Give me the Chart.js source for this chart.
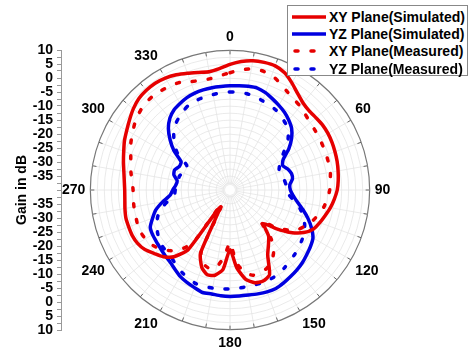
<!DOCTYPE html>
<html>
<head>
<meta charset="utf-8">
<script src="https://cdn.jsdelivr.net/npm/chart.js@4.4.1/dist/chart.umd.min.js"></script>
<style>
  html, body { margin: 0; padding: 0; background: #fff; overflow: hidden; }
  #wrap { position: relative; width: 470px; height: 358px; }
  #polar { position: absolute; left: 0; top: 0; }
  #axis { position: absolute; left: 0; top: 0; }
  #legend {
    position: absolute; left: 287px; top: 5px; width: 179px; height: 69px;
    background: #fff; border: 1px solid #888;
    font: bold 14px "Liberation Sans", Arial, sans-serif; color: #000;
  }
  #legend .row { display: flex; align-items: center; height: 17.3px; margin-top: 0; }
  #legend .row:first-child { margin-top: 2px; }
  #legend svg { margin-left: 4px; margin-right: 3px; }
</style>
</head>
<body>
<div id="wrap">
  <canvas id="axis" width="80" height="358"></canvas>
  <canvas id="polar" width="470" height="360"></canvas>
  <div id="legend"></div>
</div>
<script>
// polar pattern, gain in dB every 5 degrees (0 = top, clockwise)
const angles = [0,5,10,15,20,25,30,35,40,45,50,55,60,65,70,75,80,85,90,95,100,105,110,115,
  120,125,130,135,140,145,150,155,160,165,170,175,180,185,190,195,200,205,210,215,220,225,230,235,
  240,245,250,255,260,265,270,275,280,285,290,295,300,305,310,315,320,325,330,335,340,345,350,355];

const xySim = [5,6.2,7,7.3,7.3,6.3,4.3,2.2,0.7,0.1,0.2,0.5,0.5,0.3,0,-0.3,-0.7,-1.1,-1.6,-2.5,-3.5,-4.7,-5.8,-7,
  -9.5,-13.5,-18.5,-23,-18.5,-16,-13,-6.5,-5.3,-5.6,-7.5,-12,-18.6,-11.5,-9,-8.6,-10.5,-15,-33,-14,-8.8,-6.2,-4.6,-2.8,
  -1.8,-1.4,-1.4,-1.4,-1.8,-2.2,-2.3,-2,-1.4,-0.5,0.5,1.7,2.7,3.9,5.2,6.2,6.6,6.7,6.3,5.5,4.5,3.6,3,3.6];

const yzSim = [-2.7,-2.5,-2.3,-2.2,-2.9,-4,-5,-6,-7.3,-8.8,-11.2,-14.3,-18,-19.2,-18,-17.2,-17.3,-18.5,-18.4,-17.3,-15.5,-13,-10.3,-7.8,
  -5.7,-4.8,-4.1,-3.3,-2.7,-2.2,-1.6,-1.1,-1.2,-1.5,-1.8,-1.9,-1.9,-2,-2.2,-2,-2.8,-3.5,-4.3,-5.5,-6.5,-7,-7.5,-7.8,
  -8,-8.5,-10.5,-12.5,-15.5,-18.5,-19.5,-20.5,-20.8,-19.2,-18.9,-20,-19.8,-15.5,-12,-8.8,-6.5,-5,-4.2,-3.5,-3.1,-2.9,-2.8,-2.8];

const xyMeas = [2,3.2,4,4.2,3.7,2.3,0.8,-0.2,-0.9,-1.8,-2.5,-2.8,-3,-3.2,-3.3,-3.4,-3.5,-4,-4.3,-5,-5.8,-7,-8.3,-10,
  -11.8,-15,-19.5,-24.5,-17,-12.8,-10.3,-9,-8.5,-8.4,-10,-14,-21,-16,-12,-11,-12,-15.5,-34.5,-17,-12,-9.3,-7.2,-5.8,
  -5,-4.6,-4.7,-5,-5.1,-5.2,-5.3,-4.8,-4,-3.2,-2.2,-0.8,0.4,1.6,2.6,3.4,3.5,3.3,3,2.5,1.3,0.6,0.5,1.1];

const yzMeas = [-4.9,-4.9,-5,-5.4,-6,-6.5,-7,-8,-9,-10.5,-13,-16.5,-19,-20.5,-21.3,-20.8,-20.2,-19.8,-19.5,-18.7,-16.5,-14,-12,-10.5,
  -9.3,-8.6,-8,-7.3,-6.8,-6,-5.2,-5,-4.9,-4.9,-4.9,-4.7,-4.6,-4.4,-4.3,-4.3,-4.3,-5,-5.8,-6.8,-7.8,-8.2,-8.5,-9,
  -10,-11,-12.5,-14.5,-17.5,-20,-20.4,-21,-21.3,-21.2,-22,-23.2,-22,-17,-14,-11.5,-9.5,-8.2,-7,-6,-5.7,-5.5,-5.3,-5];

const seriesNames = ["XY Plane(Simulated)", "YZ Plane(Simulated)", "XY Plane(Measured)", "YZ Plane(Measured)"];
const gainMin = -40, gainMax = 10;

Chart.defaults.font.family = "'Liberation Sans', Arial, sans-serif";
Chart.defaults.color = "#000";

const RED = "#e60000", BLUE = "#0000e0";

function ds(label, data, color, dotted) {
  return {
    label: label,
    data: data,
    borderColor: color,
    backgroundColor: color,
    borderWidth: 3.5,
    borderDash: dotted ? [3, 13] : [],
    borderCapStyle: dotted ? "round" : "butt",
    pointRadius: 0,
    fill: false,
    tension: 0.2
  };
}

// outer ring ticks + small hole in the middle
const ringTicks = {
  id: "ringTicks",
  beforeDatasetsDraw(chart) {
    const s = chart.scales.r, c = chart.ctx;
    c.save();
    c.fillStyle = "#fff";
    c.beginPath();
    c.arc(s.xCenter, s.yCenter, 5, 0, Math.PI * 2);
    c.fill();
    c.strokeStyle = "#666";
    c.lineWidth = 1;
    for (let i = 0; i < angles.length; i += 2) {
      const a = s.getPointPosition(i, s.drawingArea);
      const b = s.getPointPosition(i, s.drawingArea - 4);
      c.beginPath();
      c.moveTo(a.x, a.y);
      c.lineTo(b.x, b.y);
      c.stroke();
    }
    c.restore();
  }
};

const polar = new Chart(document.getElementById("polar"), {
  type: "radar",
  data: {
    labels: angles,
    datasets: [
      ds(seriesNames[0], xySim, RED, false),
      ds(seriesNames[1], yzSim, BLUE, false),
      ds(seriesNames[2], xyMeas, RED, true),
      ds(seriesNames[3], yzMeas, BLUE, true)
    ]
  },
  options: {
    responsive: false,
    animation: false,
    layout: { padding: { left: 58, right: 75, top: 22, bottom: 1 } },
    plugins: { legend: { display: false }, tooltip: { enabled: false } },
    scales: {
      r: {
        min: gainMin,
        max: gainMax,
        ticks: { display: false, stepSize: 2.5 },
        grid: {
          circular: true,
          color: ctx => ctx.tick && ctx.tick.value === gainMax ? "#777" : "#e4e4e4",
          lineWidth: ctx => ctx.tick && ctx.tick.value === gainMax ? 1.2 : 0.8
        },
        angleLines: {
          color: ctx => ctx.index % 2 === 0 ? "#e4e4e4" : "rgba(0,0,0,0)",
          lineWidth: 0.8
        },
        pointLabels: {
          padding: 5,
          font: { size: 14, weight: "bold" },
          color: "#000",
          callback: (label) => label % 30 === 0 ? String(label) : ""
        }
      }
    }
  },
  plugins: [ringTicks]
});

// mirrored gain axis on the left
new Chart(document.getElementById("axis"), {
  type: "scatter",
  data: { datasets: [] },
  options: {
    responsive: false,
    animation: false,
    layout: { padding: { top: 50, bottom: 28, left: 0, right: 0 } },
    plugins: { legend: { display: false }, tooltip: { enabled: false } },
    scales: {
      x: { display: false, min: 0, max: 1 },
      y: {
        min: -(gainMax - gainMin),
        max: gainMax - gainMin,
        afterFit: s => { s.width = 61; },
        border: { display: true, color: "#999", width: 1 },
        grid: { drawOnChartArea: false, tickLength: 4, tickColor: "#999" },
        ticks: {
          stepSize: 2.5,
          autoSkip: false,
          padding: 4,
          font: { size: 14, weight: "bold" },
          color: "#000",
          callback: v => {
            const a = Math.abs(v);
            if (a === 0 || a % 5 !== 0) return "";
            return String(a + gainMin);
          }
        },
        title: {
          display: true,
          text: "Gain in dB",
          font: { size: 14, weight: "bold" },
          color: "#000",
          padding: { top: 14, bottom: 4 }
        }
      }
    }
  }
});

// legend built from the datasets
const legend = document.getElementById("legend");
polar.data.datasets.forEach(d => {
  const row = document.createElement("div");
  row.className = "row";
  const dash = d.borderDash.length ? 'stroke-dasharray="3 13" stroke-linecap="round"' : "";
  row.innerHTML = '<svg width="34" height="8"><line x1="' + (dash ? 3 : 0) + '" y1="4" x2="34" y2="4" stroke="' +
    d.borderColor + '" stroke-width="3.5" ' + dash + '/></svg><span>' + d.label + '</span>';
  legend.appendChild(row);
});
</script>
</body>
</html>
